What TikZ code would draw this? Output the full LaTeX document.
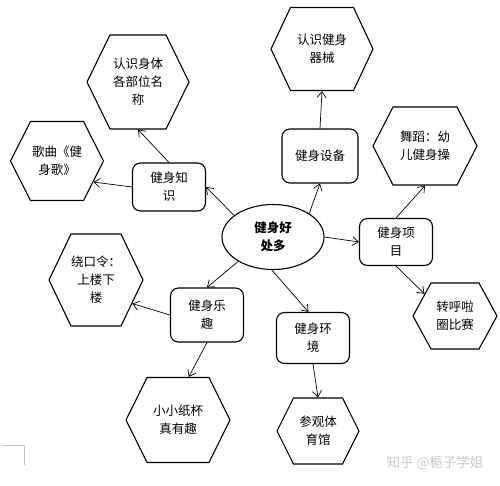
\documentclass[tikz,border=0pt]{standalone}
\usepackage{fontspec}
\setmainfont{Noto Sans CJK SC}
\usetikzlibrary{shapes.symbols,shapes.geometric,arrows.meta}
\begin{document}
\begin{tikzpicture}[x=1pt,y=-1pt,
  every node/.style={font=\fontsize{12.5}{18}\selectfont, align=center, inner sep=0pt},
  hexa/.style={draw, line width=1.1pt, signal, signal to=east and west},
  box/.style={draw, line width=1.1pt, rounded corners=8pt, rectangle, minimum width=73pt},
  arr/.style={draw, line width=0.7pt, -{Straight Barb[length=6pt,width=9pt]}}
]
\useasboundingbox (0,0) rectangle (500,485);
\fill[white] (0,0) rectangle (500,485);
% centre
\node[draw, line width=1.1pt, ellipse, minimum width=102pt, minimum height=65pt, font=\fontsize{12.5}{18}\selectfont\bfseries] (e) at (273,237) {健身好\\处多};
% boxes
\node[box, minimum height=48pt] (zs) at (169,187) {健身知\\识};
\node[box, minimum width=76pt, minimum height=54pt] (sb) at (320,156) {健身设备};
\node[box, minimum height=47pt] (xm) at (396,242) {健身项\\目};
\node[box, minimum height=51pt] (hj) at (313,338) {健身环\\境};
\node[box, minimum height=54pt] (lq) at (207,315) {健身乐\\趣};
% hexagons
\node[hexa, minimum width=102pt, minimum height=94pt, signal pointer angle=127.9] (h1) at (138,82) {认识身体\\各部位名\\称};
\node[hexa, minimum width=93pt, minimum height=79pt, signal pointer angle=126.3] (h2) at (57,161) {歌曲《健\\身歌》};
\node[hexa, minimum width=102pt, minimum height=83pt, signal pointer angle=129.7] (h3) at (322,49) {认识健身\\器械};
\node[hexa, minimum width=104pt, minimum height=78pt, signal pointer angle=125.7] (h4) at (425,146) {舞蹈：幼\\儿健身操};
\node[hexa, minimum width=84pt, minimum height=66pt, signal pointer angle=122.8] (h5) at (455,316) {转呼啦\\圈比赛};
\node[hexa, minimum width=82pt, minimum height=66pt, signal pointer angle=126.9] (h6) at (318,431) {参观体\\育馆};
\node[hexa, minimum width=104pt, minimum height=85pt, signal pointer angle=127.4] (h7) at (178,420) {小小纸杯\\真有趣};
\node[hexa, minimum width=94pt, minimum height=92pt, signal pointer angle=128.9] (h8) at (96,280) {绕口令：\\上楼下\\楼};
% arrows
\draw[arr] (e.151) -- (zs.east);
\draw[arr] (e.33) -- (sb.south);
\draw[arr] (e.east) -- (xm.west);
\draw[arr] (e.268) -- (hj.100);
\draw[arr] (e.215) -- (lq.north);
\draw[arr] (zs.north) -- (h1.south);
\draw[arr] (zs.west) -- (h2.-30);
\draw[arr] (sb.north) -- (h3.south);
\draw[arr] (xm.north) -- (h4.south);
\draw[arr] (xm.south) -- (h5.144);
\draw[arr] (hj.south) -- (h6.north);
\draw[arr] (lq.west) -- (h8.-33);
\draw[arr] (lq.south) -- (h7.76);
% watermark and corner mark
\node[text=black!22, font=\fontsize{13.5}{16}\selectfont] (wm) at (435,463) {知乎 @栀子学姐};
\coordinate (c1) at (3,445);
\coordinate (c2) at (24,445);
\coordinate (c3) at (24,465);
\draw[black!25, line width=0.6pt] (c1) -- (c2) -- (c3);
\end{tikzpicture}
\end{document}
